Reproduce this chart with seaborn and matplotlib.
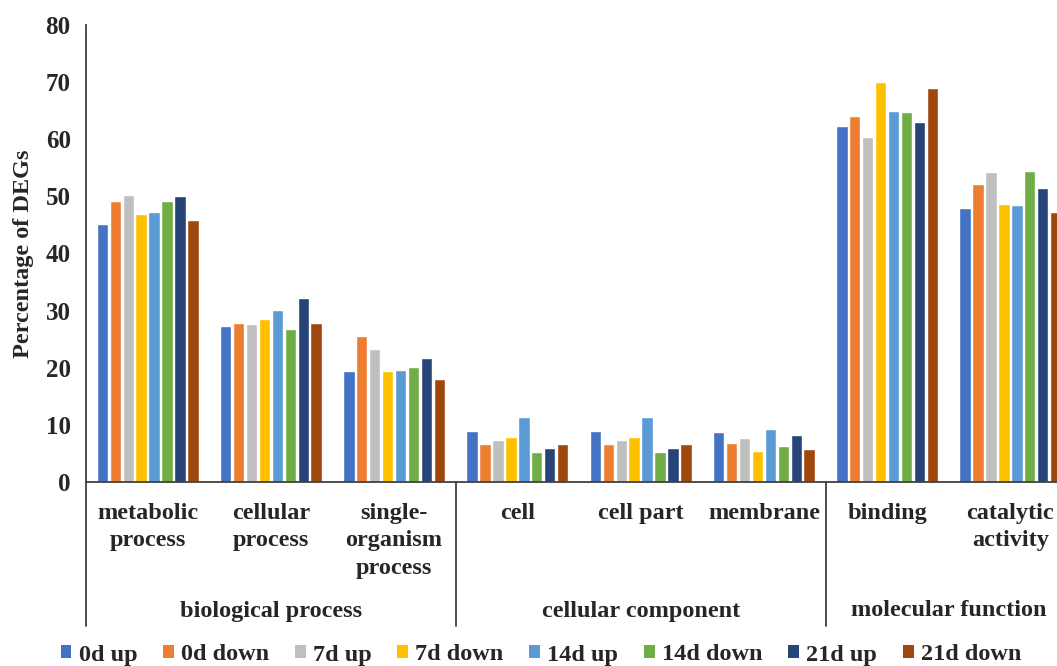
import numpy as np
import pandas as pd
import matplotlib
matplotlib.use("Agg")
import matplotlib.pyplot as plt
import matplotlib.transforms as mtransforms
from matplotlib.lines import Line2D
from matplotlib.patches import Patch
import seaborn as sns

# GO terms (x axis) and their parent ontology
terms = ["metabolic\nprocess", "cellular\nprocess", "single-\norganism\nprocess",
         "cell", "cell part", "membrane", "binding", "catalytic\nactivity"]
ontologies = ["biological process", "cellular component", "molecular function"]
ontology_sizes = [3, 3, 2]

samples = ["0d up", "0d down", "7d up", "7d down",
           "14d up", "14d down", "21d up", "21d down"]
colors = ["#4472C4", "#ED7D31", "#BFBFBF", "#FFC000",
          "#5B9BD5", "#70AD47", "#264478", "#9E480E"]

# Percentage of DEGs per sample, one list per GO term
metabolic_process = [45.2, 49.2, 50.3, 46.9, 47.2, 49.2, 50.1, 45.9]
cellular_process = [27.3, 27.9, 27.6, 28.6, 30.1, 26.7, 32.2, 27.8]
single_organism_process = [19.4, 25.5, 23.2, 19.5, 19.6, 20.2, 21.7, 18.1]
cell = [8.9, 6.6, 7.4, 7.9, 11.4, 5.2, 5.9, 6.6]
cell_part = [8.9, 6.6, 7.4, 7.9, 11.4, 5.2, 5.9, 6.6]
membrane = [8.7, 6.9, 7.7, 5.4, 9.2, 6.3, 8.2, 5.7]
binding = [62.4, 64.0, 60.4, 70.1, 64.9, 64.7, 63.0, 69.0]
catalytic_activity = [47.9, 52.2, 54.2, 48.7, 48.5, 54.4, 51.5, 47.3]

values = [metabolic_process, cellular_process, single_organism_process,
          cell, cell_part, membrane, binding, catalytic_activity]

rows = []
for term, vals in zip(terms, values):
    for s, v in zip(samples, vals):
        rows.append({"term": term, "sample": s, "pct": v})
df = pd.DataFrame(rows)

sns.set_style("white")
plt.rcParams["font.family"] = ["Liberation Serif", "DejaVu Serif"]
plt.rcParams["font.weight"] = "bold"
FS = 17.5

W, H = 1057, 666
fig = plt.figure(figsize=(W / 100, H / 100), dpi=100)
# axes run from x=86px to 1072px (slightly past the right edge), y from 25px to 482px
ax = fig.add_axes([86 / W, 1 - 482 / H, (1072 - 86) / W, (482 - 25) / H])

sns.barplot(data=df, x="term", y="pct", hue="sample", order=terms,
            hue_order=samples, palette=colors, width=0.84, gap=0.12,
            saturation=1, legend=False, ax=ax)

ax.set_xlim(-0.5, len(terms) - 0.5)
ax.set_ylim(0, 80)
ax.set_yticks(np.arange(0, 81, 10))
ax.set_yticklabels([str(t) for t in range(0, 81, 10)], fontsize=18, fontweight="bold")
ax.set_xticks([])
ax.set_xlabel("")
ax.set_ylabel("Percentage of DEGs", fontsize=FS, fontweight="bold", labelpad=8)

for side in ["top", "right"]:
    ax.spines[side].set_visible(False)
for side in ["left", "bottom"]:
    ax.spines[side].set_color("#404040")
    ax.spines[side].set_linewidth(1.3)
ax.tick_params(axis="y", direction="out", length=5, width=1.1, color="#404040", pad=6)

# Category labels below the axis
trans = mtransforms.blended_transform_factory(ax.transData, fig.transFigure)
for i, term in enumerate(terms):
    ax.text(i, 1 - 503 / H, term, transform=trans, ha="center", va="top",
            fontsize=FS, fontweight="bold", linespacing=1.4)

# Ontology separators and group labels
bounds = np.concatenate([[0], np.cumsum(ontology_sizes)]) - 0.5
for b in bounds[:-1]:
    ax.add_line(Line2D([b, b], [1 - 482 / H, 1 - 626 / H], transform=trans,
                       color="#404040", lw=1.3, clip_on=False))
label_x = [(bounds[k] + bounds[k + 1]) / 2 for k in range(len(ontologies))]
for x, name in zip(label_x, ontologies):
    ax.text(x, 1 - 611 / H, name, transform=trans, ha="center", va="center",
            fontsize=FS, fontweight="bold")

handles = [Patch(facecolor=c, edgecolor="none", label=s) for s, c in zip(samples, colors)]
leg = fig.legend(handles=handles, loc="center", bbox_to_anchor=(541 / W, 1 - 655 / H),
                 ncol=len(samples), frameon=False, fontsize=FS,
                 handlelength=0.45, handleheight=0.45, handletextpad=0.3,
                 columnspacing=1.05, borderpad=0)
for t in leg.get_texts():
    t.set_fontweight("bold")

fig.savefig("out.png", dpi=100)
